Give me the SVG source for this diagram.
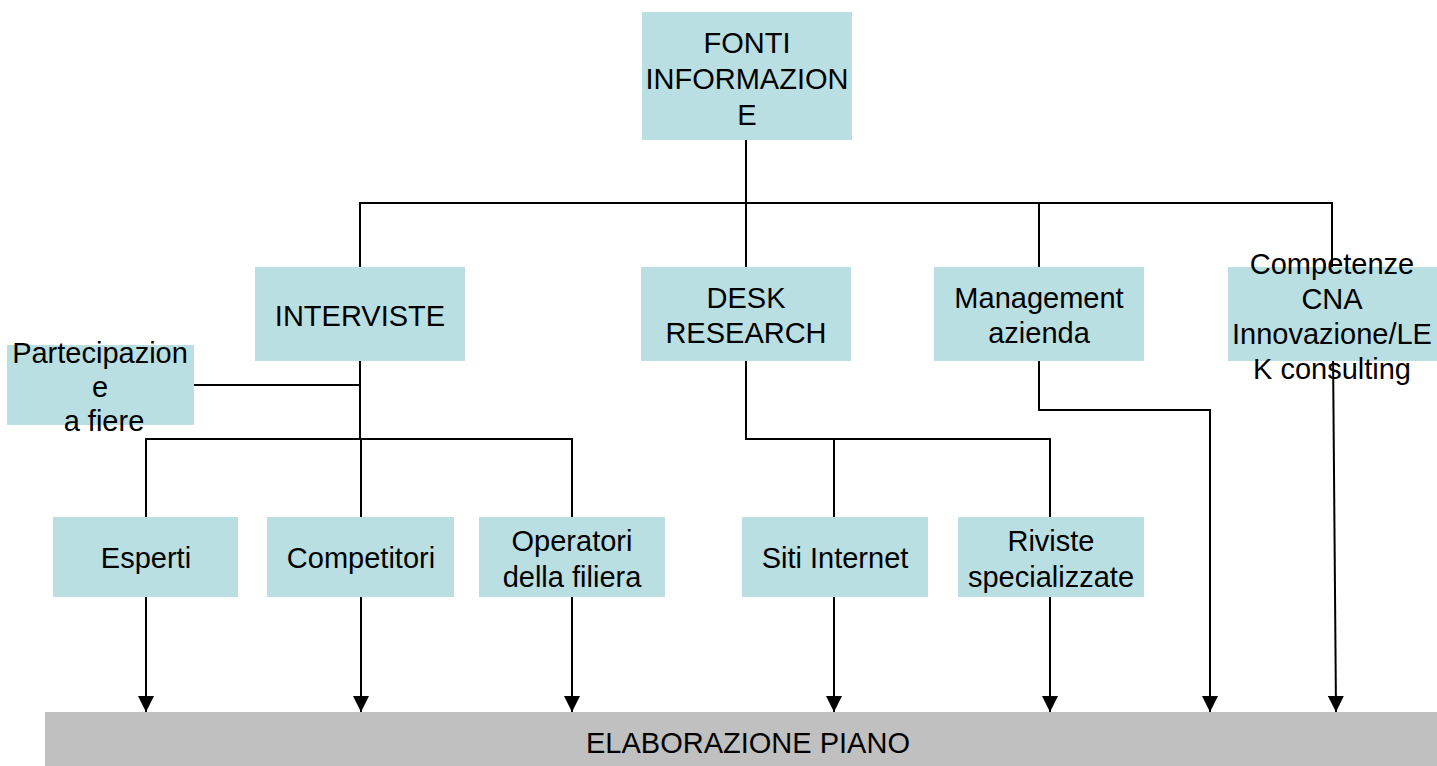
<svg xmlns="http://www.w3.org/2000/svg" width="1437" height="766" viewBox="0 0 1437 766">
<style>
.box{fill:#badfe2}
.bar{fill:#c0c0c0}
text{font-family:"Liberation Sans",Arial,sans-serif;font-size:29px;fill:#000;text-anchor:middle}
.ln{fill:none;stroke:#000;stroke-width:2}
.ar{fill:none;stroke:#000;stroke-width:2;marker-end:url(#ah)}
</style>
<defs>
<marker id="ah" markerUnits="userSpaceOnUse" markerWidth="16" markerHeight="16" refX="16" refY="8" orient="auto">
<path d="M0,0 L16,8 L0,16 Z" fill="#000"/>
</marker>
</defs>
<rect width="1437" height="766" fill="#fff"/>
<g id="connectors">
<path class="ln" d="M746,140 V267"/>
<path class="ln" d="M360,267 V203 H1332 V267"/>
<path class="ln" d="M1039,203 V267"/>
<path class="ln" d="M360,361 V439"/>
<path class="ln" d="M194,385 H360"/>
<path class="ln" d="M146,517 V439 H572 V517"/>
<path class="ln" d="M361,439 V517"/>
<path class="ln" d="M746,361 V439 H1050 V517"/>
<path class="ln" d="M834,439 V517"/>
<path class="ar" d="M146,597 V712"/>
<path class="ar" d="M361,597 V712"/>
<path class="ar" d="M572,597 V712"/>
<path class="ar" d="M834,597 V712"/>
<path class="ar" d="M1050,597 V712"/>
<path class="ar" d="M1039,361 V410 H1210 V712"/>
<path class="ar" d="M1333,352 L1336,712"/>
</g>
<g id="fonti">
<rect class="box" x="642" y="12" width="210" height="128"/>
<text x="747" y="53">FONTI</text>
<text x="747" y="89">INFORMAZION</text>
<text x="747" y="125">E</text>
</g>
<g id="interviste">
<rect class="box" x="255" y="267" width="210" height="94"/>
<text x="360" y="326">INTERVISTE</text>
</g>
<g id="desk">
<rect class="box" x="641" y="267" width="210" height="94"/>
<text x="746" y="308">DESK</text>
<text x="746" y="343">RESEARCH</text>
</g>
<g id="management">
<rect class="box" x="934" y="267" width="210" height="94"/>
<text x="1039" y="308">Management</text>
<text x="1039" y="343">azienda</text>
</g>
<g id="competenze">
<rect class="box" x="1228" y="267" width="209" height="94"/>
<text x="1332" y="274">Competenze</text>
<text x="1332" y="309">CNA</text>
<text x="1332" y="344">Innovazione/LE</text>
<text x="1332" y="379">K consulting</text>
</g>
<g id="partecipazione">
<rect class="box" x="7" y="345" width="187" height="80"/>
<text x="100" y="363">Partecipazion</text>
<text x="100" y="397">e</text>
<text x="104" y="431">a fiere</text>
</g>
<g id="esperti">
<rect class="box" x="53" y="517" width="185" height="80"/>
<text x="146" y="568">Esperti</text>
</g>
<g id="competitori">
<rect class="box" x="267" y="517" width="187" height="80"/>
<text x="361" y="568">Competitori</text>
</g>
<g id="operatori">
<rect class="box" x="479" y="517" width="186" height="80"/>
<text x="572" y="551">Operatori</text>
<text x="572" y="587">della filiera</text>
</g>
<g id="siti">
<rect class="box" x="742" y="517" width="186" height="80"/>
<text x="835" y="568">Siti Internet</text>
</g>
<g id="riviste">
<rect class="box" x="958" y="517" width="186" height="80"/>
<text x="1051" y="551">Riviste</text>
<text x="1051" y="587">specializzate</text>
</g>
<g id="elaborazione">
<rect class="bar" x="45" y="712" width="1392" height="54"/>
<text x="748" y="753">ELABORAZIONE PIANO</text>
</g>
</svg>
